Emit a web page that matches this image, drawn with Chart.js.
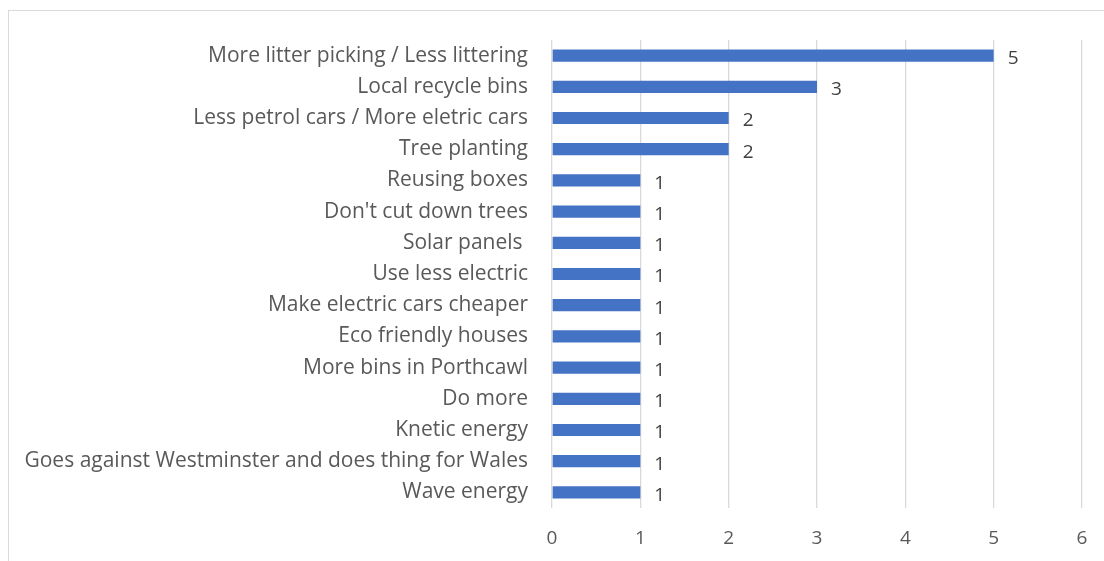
<!DOCTYPE html>
<html>
<head>
<meta charset="utf-8">
<script src="https://cdn.jsdelivr.net/npm/chart.js@4.4.1/dist/chart.umd.min.js"></script>
<style>
  html, body { margin: 0; padding: 0; background: #fff; }
  #wrap { position: relative; width: 1104px; height: 561px; overflow: hidden; }
  #frame { position: absolute; left: 8px; top: 10px; width: 1200px; height: 700px;
           border-left: 1px solid #d9d9d9; border-top: 1px solid #d9d9d9; }
  #myChart { position: absolute; left: 0; top: 0; }
</style>
</head>
<body>
<div id="wrap">
  <div id="frame"></div>
  <canvas id="myChart" width="1104" height="561"></canvas>
</div>
<script>
const labels = [
  "More litter picking / Less littering",
  "Local recycle bins",
  "Less petrol cars / More eletric cars",
  "Tree planting",
  "Reusing boxes",
  "Don't cut down trees",
  "Solar panels ",
  "Use less electric",
  "Make electric cars cheaper",
  "Eco friendly houses",
  "More bins in Porthcawl",
  "Do more",
  "Knetic energy",
  "Goes against Westminster and does thing for Wales",
  "Wave energy",
];
const values = [5, 3, 2, 2, 1, 1, 1, 1, 1, 1, 1, 1, 1, 1, 1];

const fontFamily = "'Open Sans', sans-serif";

// value labels to the right of each bar
const barLabels = {
  id: "barLabels",
  afterDatasetsDraw(chart) {
    const ctx = chart.ctx;
    const meta = chart.getDatasetMeta(0);
    ctx.save();
    ctx.fillStyle = "#404040";
    ctx.font = "19px " + fontFamily;
    ctx.textAlign = "left";
    ctx.textBaseline = "middle";
    meta.data.forEach((bar, i) => {
      ctx.fillText(String(values[i]), bar.x + 14, bar.y + 3);
    });
    ctx.restore();
  },
};

const data = {
  labels: labels,
  datasets: [
    {
      data: values,
      backgroundColor: "#4472C4",
      barPercentage: 0.39,
      categoryPercentage: 1,
    },
  ],
};

const config = {
  type: "bar",
  data: data,
  plugins: [barLabels],
  options: {
    indexAxis: "y",
    responsive: false,
    animation: false,
    layout: {
      padding: { top: 40, right: 22, bottom: 0, left: 0 },
    },
    plugins: {
      legend: { display: false },
      tooltip: { enabled: false },
    },
    scales: {
      x: {
        min: 0,
        max: 6,
        ticks: {
          stepSize: 1,
          color: "#595959",
          padding: 16,
          font: { family: fontFamily, size: 19, lineHeight: 1.5 },
        },
        grid: { color: "#d9d9d9", lineWidth: 1.3, drawTicks: false },
        border: { display: false },
        afterFit(scale) {
          scale.height = 53;
        },
      },
      y: {
        ticks: {
          color: "#595959",
          padding: 24,
          autoSkip: false,
          font: { family: fontFamily, size: 21 },
        },
        grid: { display: false, drawTicks: false },
        border: { display: false },
        afterFit(scale) {
          scale.width = 552;
        },
      },
    },
  },
};

const myChart = new Chart(document.getElementById("myChart"), config);
</script>
</body>
</html>
